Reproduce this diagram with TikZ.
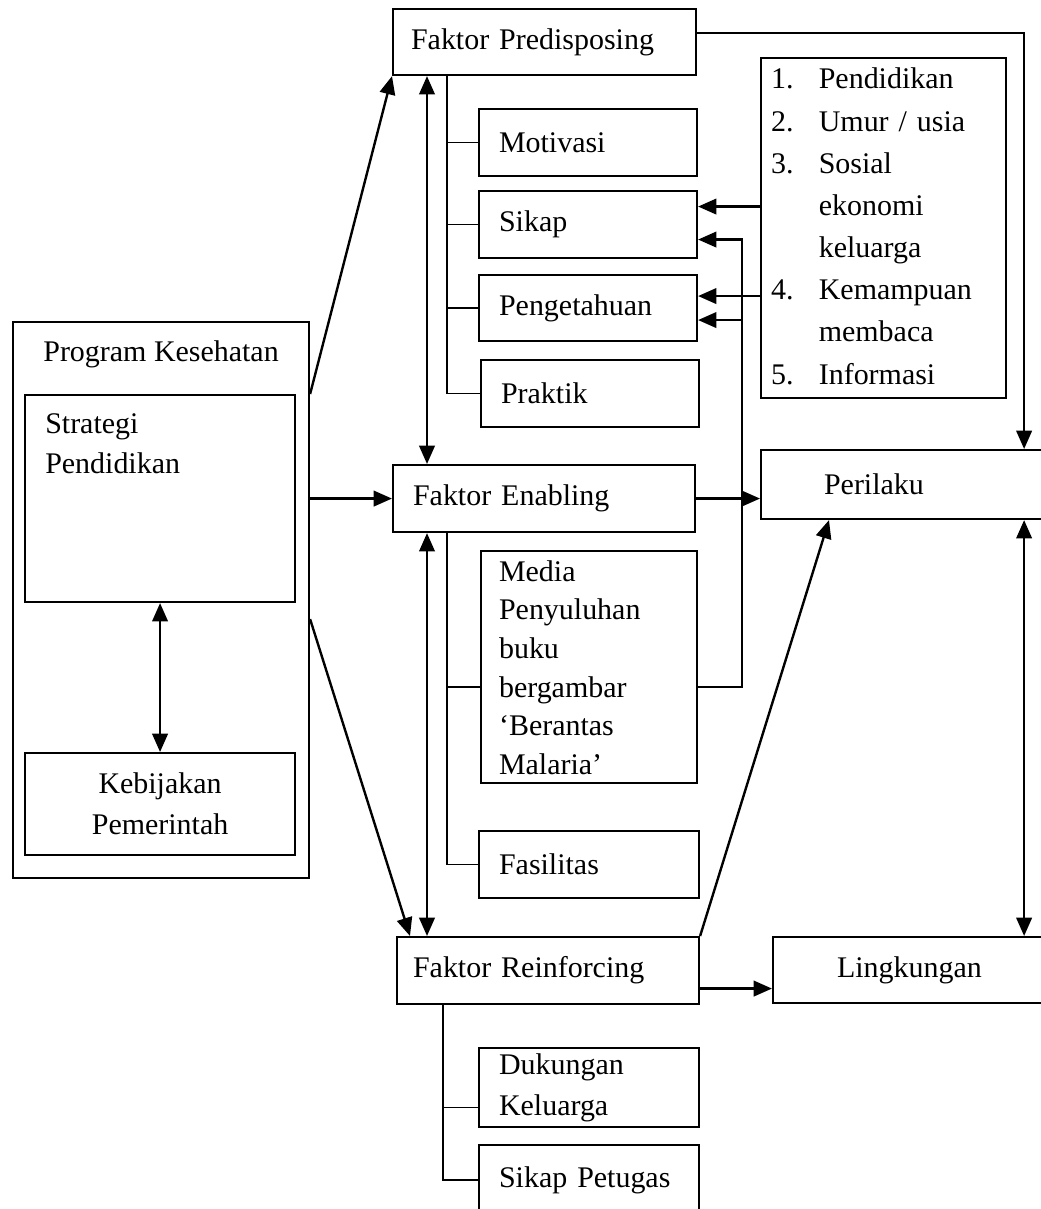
\documentclass[tikz,border=0pt]{standalone}
\usepackage{fontspec}
\setmainfont{Liberation Serif}
\usetikzlibrary{arrows.meta}
\def\px{0.025cm}
\tikzset{
  kotak/.style={draw, line width=1.5pt, anchor=north west, inner sep=0pt, align=left},
  panah/.style={line width=1.7pt, -{Triangle[length=13pt,width=11pt]}},
  panahdua/.style={line width=1.7pt, {Triangle[length=13pt,width=11pt]}-{Triangle[length=13pt,width=11pt]}},
  cabang/.style={line width=1.2pt},
}
\begin{document}
\begin{tikzpicture}[x=0.025cm,y=-0.025cm,every node/.style={font=\fontsize{21.3}{29}\selectfont}]
    \useasboundingbox (0,0) rectangle (1040,1209);
    % Program kesehatan di sebelah kiri
    \node[kotak, minimum width=296*\px, minimum height=556*\px,
        label={[anchor=north, inner sep=0pt, yshift=-19*\px]north:Program Kesehatan}] (pk) at (12,321) {};
    \node[kotak, minimum width=270*\px, minimum height=207*\px,
        label={[anchor=north west, inner sep=0pt, align=left, xshift=21*\px, yshift=-19*\px]north west:Strategi\\Pendidikan}] (strategi) at (24,394) {};
    \node[kotak, align=center, minimum width=270*\px, minimum height=102*\px] (kebijakan) at (24,752) {Kebijakan\\Pemerintah};
    % Faktor predisposing dan cabangnya
    \node[kotak, minimum width=303*\px, minimum height=66*\px, text width=267*\px] (fp) at (392,8) {Faktor Predisposing};
    \node[kotak, minimum width=218*\px, minimum height=67*\px, text width=178*\px] (motivasi) at (478,108) {Motivasi};
    \node[kotak, minimum width=218*\px, minimum height=67*\px, text width=178*\px] (sikap) at (478,190) {Sikap};
    \node[kotak, minimum width=218*\px, minimum height=66*\px, text width=178*\px] (pengetahuan) at (478,274) {Pengetahuan};
    \node[kotak, minimum width=218*\px, minimum height=67*\px, text width=178*\px] (praktik) at (480,359) {Praktik};
    \node[kotak, minimum width=245*\px, minimum height=340*\px, text width=225*\px,
        font=\fontsize{21.3}{30}\selectfont] (daftar) at (760,57) {%
        \begin{tabular}{@{}l@{\hspace{18pt}}l@{}}
        1. & Pendidikan\\
        2. & Umur / usia\\
        3. & Sosial\\
           & ekonomi\\
           & keluarga\\
        4. & Kemampuan\\
           & membaca\\
        5. & Informasi
        \end{tabular}};
    % Faktor enabling dan cabangnya
    \node[kotak, minimum width=302*\px, minimum height=67*\px, text width=262*\px] (fe) at (392,464) {Faktor Enabling};
    \node[kotak, minimum width=216*\px, minimum height=232*\px, text width=180*\px,
        font=\fontsize{21.3}{27.5}\selectfont] (media) at (480,550) {\\[-12pt]Media\\Penyuluhan\\buku\\bergambar\\‘Berantas\\Malaria’};
    \node[kotak, minimum width=220*\px, minimum height=67*\px, text width=180*\px] (fasilitas) at (478,830) {Fasilitas};
    % Faktor reinforcing dan cabangnya
    \node[kotak, minimum width=302*\px, minimum height=67*\px, text width=270*\px] (fr) at (396,936) {Faktor Reinforcing};
    \node[kotak, minimum width=220*\px, minimum height=79*\px, text width=180*\px] (dukungan) at (478,1047) {Dukungan\\Keluarga};
    \node[kotak, minimum width=220*\px, minimum height=70*\px, text width=180*\px] (petugas) at (478,1144) {Sikap Petugas};
    % Hasil di sebelah kanan
    \node[kotak, minimum width=286*\px, minimum height=69*\px, text width=160*\px] (perilaku) at (760,449) {Perilaku};
    \node[kotak, minimum width=274*\px, minimum height=66*\px, text width=146*\px] (lingkungan) at (772,936) {Lingkungan};
    % Garis cabang
    \draw[cabang] ([xshift=55*\px]fp.south west) |- (praktik.west);
    \foreach \n in {motivasi,sikap,pengetahuan}
        \draw[cabang] (\n.west) -- ++(-31,0);
    \draw[cabang] ([xshift=55*\px]fe.south west) |- (fasilitas.west);
    \draw[cabang] ([yshift=-20*\px]media.west) -- ++(-33,0);
    \draw[cabang] ([xshift=47*\px]fr.south west) |- (petugas.west);
    \draw[cabang] ([yshift=-20*\px]dukungan.west) -- ++(-35,0);
    % Panah dari program kesehatan
    \draw[panah] (pk.east |- strategi.north) -- (fp.south west);
    \draw[panah] (pk.east |- fe.west) -- (fe.west);
    \draw[panah] ([yshift=-16*\px]pk.east |- strategi.south) -- ([xshift=14*\px]fr.north west);
    \draw[panahdua] (strategi.south) -- (kebijakan.north);
    % Panah antar faktor
    \draw[panahdua] ([xshift=35*\px]fp.south west) -- ([xshift=35*\px]fe.north west);
    \draw[panahdua] ([xshift=35*\px]fe.south west) -- ([xshift=35*\px]fe.south west |- fr.north);
    % Panah ke sikap dan pengetahuan
    \draw[panah] ([yshift=18*\px]daftar.west |- sikap.east) -- ([yshift=18*\px]sikap.east);
    \draw[panah] ([yshift=12*\px]daftar.west |- pengetahuan.east) -- ([yshift=12*\px]pengetahuan.east);
    \coordinate (belok) at ([xshift=44*\px,yshift=-20*\px]media.east);
    \draw[panah] ([yshift=-20*\px]media.east) -- (belok) |- ([yshift=-15*\px]sikap.east);
    \draw[panah] ([yshift=-12*\px]belok |- pengetahuan.east) -- ([yshift=-12*\px]pengetahuan.east);
    % Panah ke perilaku dan lingkungan
    \draw[panah] ([yshift=9*\px]fp.east) -| ([xshift=-24*\px]perilaku.north east);
    \draw[panah] (fe.east) -- (fe.east -| perilaku.west);
    \draw[panah] (fr.north east) -- ([xshift=69*\px]perilaku.south west);
    \draw[panah] ([yshift=-18*\px]fr.east) -- ([yshift=-18*\px]fr.east -| lingkungan.west);
    \draw[panahdua] ([xshift=-24*\px]perilaku.south east) -- ([xshift=-24*\px]perilaku.south east |- lingkungan.north);
\end{tikzpicture}
\end{document}
